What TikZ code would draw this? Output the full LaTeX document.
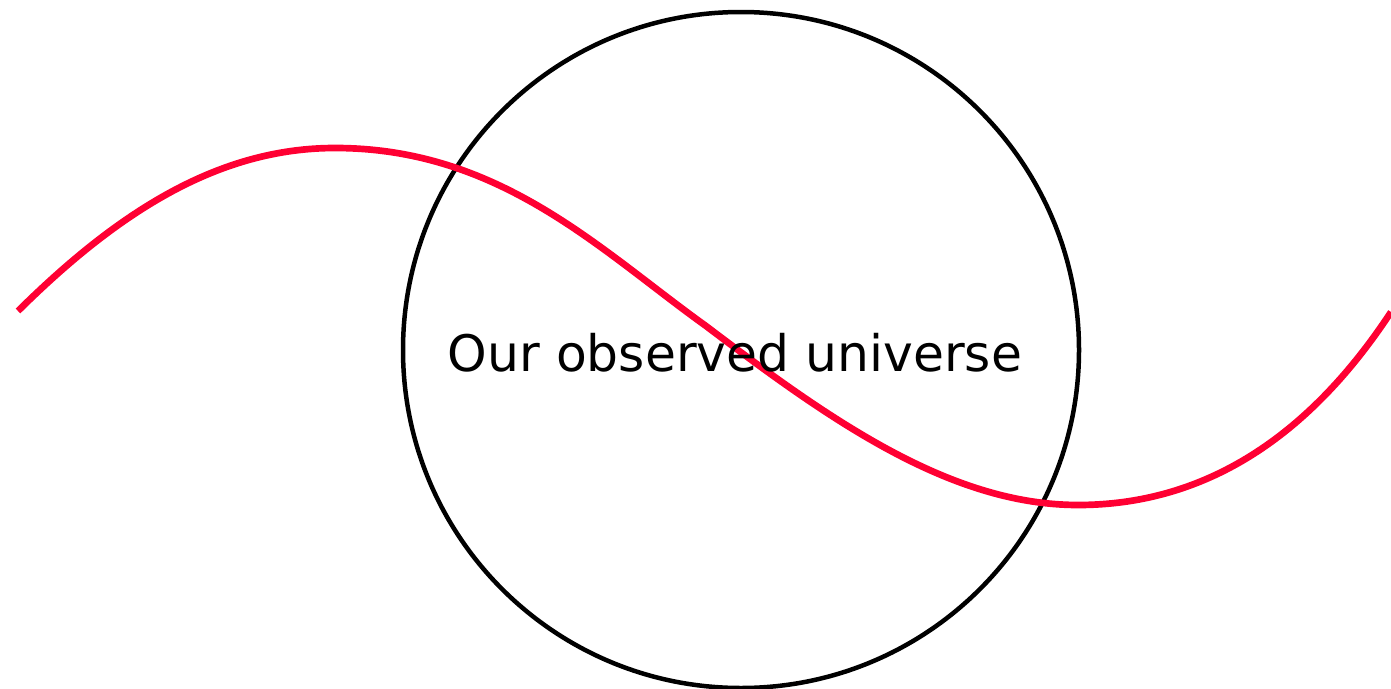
\documentclass[tikz,border=0pt]{standalone}
\usepackage{fontspec}
\setmainfont{DejaVu Sans}
\definecolor{wavered}{HTML}{FF0033}
\begin{document}
\begin{tikzpicture}[x=0.05cm,y=-0.05cm,
  universe/.style={draw=black,line width=6.4pt,circle,minimum size=676*0.05cm,inner sep=0pt},
  wave/.style={draw=wavered,line width=9.5pt},
  label/.style={font=\fontsize{48pt}{56pt}\selectfont,inner sep=0pt}]
\useasboundingbox (0,0) rectangle (1391,688);
\node[universe] (u) at (741,350) {};
\coordinate (w0) at (18,311);
\coordinate (w1) at (335,148);
\coordinate (w2) at (706,326);
\coordinate (w3) at (1078,505);
\coordinate (w4) at (1391,312);
\draw[wave] (w0) .. controls (120,210) and (220,148) .. (w1)
  .. controls (500,148) and (600,250) .. (w2)
  .. controls (830,420) and (950,505) .. (w3)
  .. controls (1220,505) and (1320,420) .. (w4);
\node[label] (t) at (735,353) {\resizebox{28.7cm}{!}{Our observed universe}};
\end{tikzpicture}
\end{document}
